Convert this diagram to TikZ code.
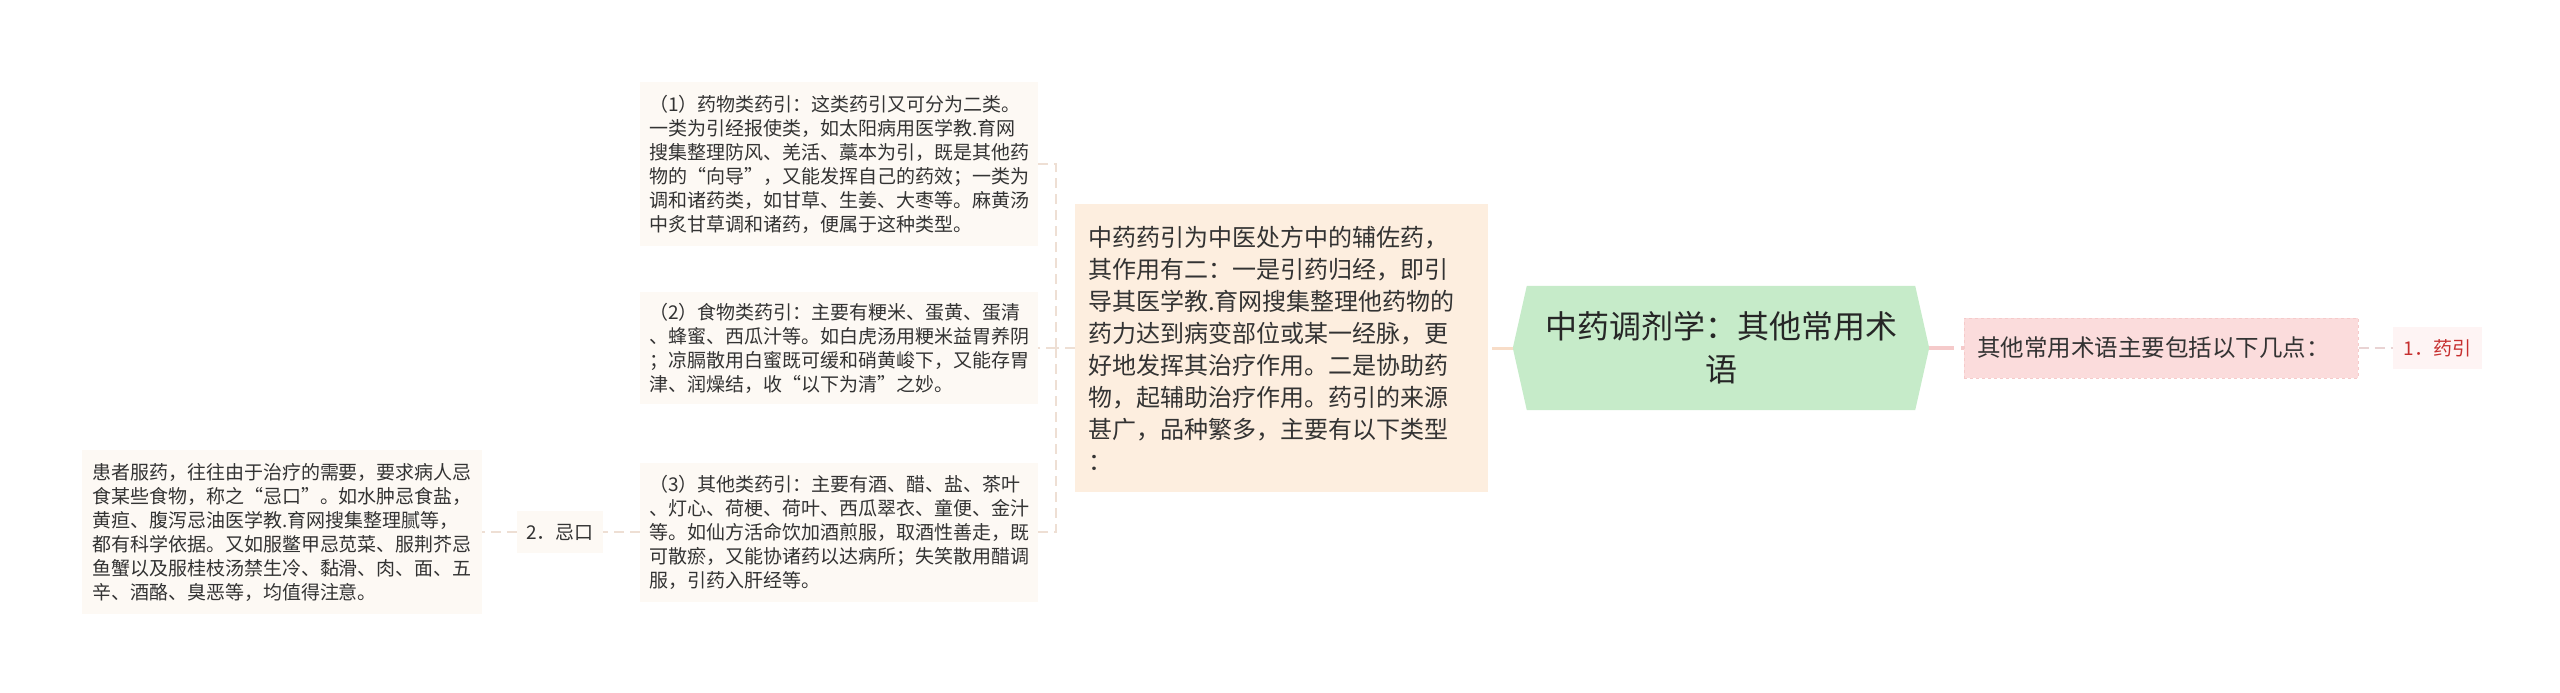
\documentclass[tikz,border=0pt]{standalone}
\usepackage{fontspec}
\setmainfont{Noto Sans CJK SC}
\usetikzlibrary{positioning,backgrounds}
\definecolor{rootgreen}{HTML}{C6EBC9}
\definecolor{mainfill}{HTML}{FDEEDF}
\definecolor{leaffill}{HTML}{FDF9F4}
\definecolor{pinkfill}{HTML}{FBDCDC}
\definecolor{pinkline}{HTML}{F5CACA}
\definecolor{tagfill}{HTML}{FEF4F4}
\definecolor{txt}{HTML}{333333}
\definecolor{redtxt}{HTML}{C62F2F}
\definecolor{peachline}{HTML}{F8DDC8}
\definecolor{branchline}{HTML}{EEDFD4}
\definecolor{tagline}{HTML}{E9D3D3}

\begin{document}
\begin{tikzpicture}[x=1pt, y=-1pt, text=txt,
  rootbox/.style={align=center, inner sep=0pt, minimum width=388pt, minimum height=124pt,
    font=\fontsize{32}{43}\selectfont, text=black!85},
  mainbox/.style={fill=mainfill, align=left, text width=387pt, inner xsep=13pt, inner ysep=0pt,
    minimum height=288pt, font=\fontsize{24}{32}\selectfont},
  leafbox/.style={fill=leaffill, align=left, text width=380pt, inner xsep=9pt, inner ysep=0pt,
    font=\fontsize{19}{24}\selectfont},
  pinkbox/.style={fill=pinkfill, draw=pinkline, dashed, line width=1pt, align=left, text width=368pt,
    inner xsep=13pt, inner ysep=0pt, minimum height=60pt, font=\fontsize{23.5}{28}\selectfont},
  tagbox/.style={fill=tagfill, inner xsep=9pt, inner ysep=0pt, minimum height=42pt,
    font=\fontsize{19}{23}\selectfont},
  rootlink/.style={draw=peachline, line width=3pt, dash pattern=on 21pt off 8pt},
  otherlink/.style={draw=pinkline, line width=4pt, dash pattern=on 25pt off 7pt},
  branch/.style={draw=branchline, line width=1.5pt, dash pattern=on 10pt off 6pt}]
  \useasboundingbox (0,0) rectangle (2560,693);

  \node [rootbox] (root) at (1721,348) {中药调剂学：其他常用术\\语};
  \coordinate (rootL) at ([xshift=-14pt]root.west);
  \coordinate (rootR) at ([xshift=14pt]root.east);
  \begin{scope}[on background layer]
    \fill [rootgreen] (root.north west) -- (root.north east) -- (rootR) -- (root.south east)
      -- (root.south west) -- (rootL) -- cycle;
  \end{scope}

  \node [mainbox] (main) at (1281.5,348) {中药药引为中医处方中的辅佐药，\\其作用有二：一是引药归经，即引\\导其医学教.育网搜集整理他药物的\\药力达到病变部位或某一经脉，更\\好地发挥其治疗作用。二是协助药\\物，起辅助治疗作用。药引的来源\\甚广，品种繁多，主要有以下类型\\：};
  \node [leafbox, minimum height=164pt] (leaf1) at (839,164) {（1）药物类药引：这类药引又可分为二类。\\一类为引经报使类，如太阳病用医学教.育网\\搜集整理防风、羌活、藁本为引，既是其他药\\物的“向导”，又能发挥自己的药效；一类为\\调和诸药类，如甘草、生姜、大枣等。麻黄汤\\中炙甘草调和诸药，便属于这种类型。};
  \node [leafbox, minimum height=112pt] (leaf2) at (839,348) {（2）食物类药引：主要有粳米、蛋黄、蛋清\\、蜂蜜、西瓜汁等。如白虎汤用粳米益胃养阴\\；凉膈散用白蜜既可缓和硝黄峻下，又能存胃\\津、润燥结，收“以下为清”之妙。};
  \node [leafbox, minimum height=139pt] (leaf3) at (839,532) {（3）其他类药引：主要有酒、醋、盐、茶叶\\、灯心、荷梗、荷叶、西瓜翠衣、童便、金汁\\等。如仙方活命饮加酒煎服，取酒性善走，既\\可散瘀，又能协诸药以达病所；失笑散用醋调\\服，引药入肝经等。};
  \node [tagbox, fill=leaffill, minimum width=86pt] (jikou) at (560,532) {2．忌口};
  \node [leafbox, inner xsep=10pt, minimum height=164pt] (jinote) at (282,532) {患者服药，往往由于治疗的需要，要求病人忌\\食某些食物，称之“忌口”。如水肿忌食盐，\\黄疸、腹泻忌油医学教.育网搜集整理腻等，\\都有科学依据。又如服鳖甲忌苋菜、服荆芥忌\\鱼蟹以及服桂枝汤禁生冷、黏滑、肉、面、五\\辛、酒酪、臭恶等，均值得注意。};
  \node [pinkbox] (other) at (2161,348) {其他常用术语主要包括以下几点：};
  \node [tagbox, minimum width=89pt, text=redtxt] (yaoyin) at (2437.5,348) {1．药引};
  \coordinate (fork) at (1056,348);

  \draw [rootlink] (rootL) -- (main.east);
  \draw [otherlink] (rootR) -- (other.west);
  \draw [branch, draw=tagline] (other.east) -- (yaoyin.west);
  \draw [branch] (main.west) -- (fork);
  \draw [branch] (fork) |- (leaf1.east);
  \draw [branch] (fork) -- (leaf2.east);
  \draw [branch] (fork) |- (leaf3.east);
  \draw [branch] (leaf3.west) -- (jikou.east);
  \draw [branch] (jikou.west) -- (jinote.east);
\end{tikzpicture}
\end{document}
